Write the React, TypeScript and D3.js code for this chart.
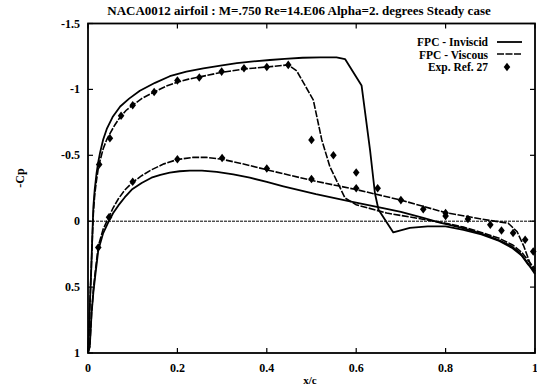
import React from "react";
import * as d3 from "d3";

const title = "NACA0012 airfoil : M=.750 Re=14.E06 Alpha=2. degrees Steady case";
const xTicks = [0, 0.2, 0.4, 0.6, 0.8, 1];
const xTickLabels = ["0", "0.2", "0.4", "0.6", "0.8", "1"];
const yTicks = [-1.5, -1, -0.5, 0, 0.5, 1];
const yTickLabels = ["-1.5", "-1", "-0.5", "0", "0.5", "1"];
const legendLabels = ["FPC - Inviscid", "FPC - Viscous", "Exp. Ref. 27"];

// [x/c, Cp]
const invUpper: [number, number][] = [
  [0, 1.0], [0.002, 0.85], [0.004, 0.65], [0.007, 0.39], [0.01, 0.08], [0.012, -0.11], [0.015, -0.24],
  [0.019, -0.36], [0.023, -0.45], [0.027, -0.52], [0.034, -0.62], [0.042, -0.7], [0.055, -0.79],
  [0.072, -0.87], [0.092, -0.93], [0.116, -0.99], [0.15, -1.05], [0.183, -1.1], [0.22, -1.135],
  [0.258, -1.16], [0.3, -1.183], [0.333, -1.2], [0.37, -1.213], [0.407, -1.223], [0.44, -1.232],
  [0.48, -1.24], [0.52, -1.243], [0.556, -1.243], [0.575, -1.23], [0.612, -1.03],
  [0.631, -0.54], [0.642, -0.21], [0.65, -0.087], [0.683, 0.085], [0.72, 0.05], [0.76, 0.04], [0.8, 0.04],
  [0.84, 0.065], [0.88, 0.1], [0.92, 0.15], [0.95, 0.205], [0.97, 0.26], [0.985, 0.33], [1.0, 0.38],
];
const invLower: [number, number][] = [
  [0, 1.0], [0.004, 0.95], [0.008, 0.7], [0.012, 0.54], [0.016, 0.42], [0.023, 0.22], [0.034, 0.09],
  [0.045, 0.01], [0.056, -0.06], [0.068, -0.12], [0.082, -0.18], [0.098, -0.24], [0.12, -0.29],
  [0.142, -0.33], [0.162, -0.352], [0.183, -0.368], [0.205, -0.379], [0.228, -0.384], [0.255, -0.383],
  [0.288, -0.375], [0.325, -0.355], [0.362, -0.33], [0.4, -0.298], [0.437, -0.265], [0.51, -0.205],
  [0.586, -0.15], [0.66, -0.1], [0.7, -0.07], [0.75, -0.025], [0.787, 0.01], [0.83, 0.045],
  [0.862, 0.075], [0.89, 0.105], [0.92, 0.145], [0.945, 0.185], [0.965, 0.235], [0.98, 0.3], [1.0, 0.4],
];
const visUpper: [number, number][] = [
  [0, 1.0], [0.002, 0.85], [0.004, 0.65], [0.007, 0.39], [0.01, 0.1], [0.012, -0.06], [0.015, -0.2],
  [0.019, -0.31], [0.023, -0.4], [0.027, -0.46], [0.034, -0.55], [0.042, -0.62], [0.05, -0.67],
  [0.06, -0.73], [0.072, -0.79], [0.085, -0.84], [0.1, -0.88], [0.12, -0.93], [0.148, -0.98],
  [0.175, -1.025], [0.2, -1.055], [0.225, -1.078], [0.25, -1.095], [0.3, -1.13], [0.35, -1.155],
  [0.4, -1.17], [0.448, -1.186], [0.467, -1.14], [0.504, -0.92], [0.523, -0.617], [0.541, -0.415],
  [0.575, -0.176], [0.6, -0.125], [0.668, -0.062], [0.74, -0.02], [0.8, 0.015], [0.84, 0.045],
  [0.88, 0.085], [0.92, 0.13], [0.95, 0.18], [0.97, 0.235], [0.985, 0.3], [1.0, 0.36],
];
const visLower: [number, number][] = [
  [0, 1.0], [0.004, 0.95], [0.008, 0.7], [0.012, 0.52], [0.016, 0.39], [0.023, 0.19], [0.034, 0.06],
  [0.045, -0.02], [0.056, -0.1], [0.068, -0.17], [0.082, -0.235], [0.098, -0.29], [0.12, -0.345],
  [0.142, -0.39], [0.17, -0.435], [0.2, -0.468], [0.235, -0.484], [0.265, -0.484], [0.3, -0.47],
  [0.35, -0.432], [0.4, -0.39], [0.5, -0.31], [0.6, -0.24], [0.7, -0.16], [0.8, -0.065],
  [0.85, -0.035], [0.9, -0.005], [0.94, 0.015], [0.96, 0.08], [0.975, 0.19], [0.99, 0.33], [1.0, 0.38],
];
const expData: [number, number][] = [
  [0.025, -0.43], [0.049, -0.63], [0.074, -0.8], [0.1, -0.88], [0.148, -0.98], [0.2, -1.067],
  [0.249, -1.09], [0.299, -1.135], [0.349, -1.16], [0.4, -1.17], [0.448, -1.186], [0.5, -0.617],
  [0.549, -0.5], [0.6, -0.37], [0.648, -0.25], [0.7, -0.16], [0.75, -0.09], [0.8, -0.062],
  [0.8, -0.04], [0.85, -0.017], [0.9, 0.027], [0.925, 0.07], [0.951, 0.09], [0.978, 0.14],
  [0.996, 0.23], [0.023, 0.2], [0.047, -0.03], [0.1, -0.3], [0.2, -0.47], [0.3, -0.48],
  [0.4, -0.4], [0.5, -0.32], [0.6, -0.25],
];

const W = 537;
const H = 391;
const x = d3.scaleLinear().domain([0, 1]).range([88, 535]);
const y = d3.scaleLinear().domain([-1.5, 1]).range([23.5, 353]);
const line = d3
  .line<[number, number]>()
  .x((d) => x(d[0]))
  .y((d) => y(d[1]))
  .curve(d3.curveLinear);
const diamond = d3.symbol().type(d3.symbolDiamond).size(26)() as string;

const font = "'Liberation Serif', 'Times New Roman', serif";

export default function App() {
  const [x0, x1] = x.range();
  const [y0, y1] = y.range();
  return (
    <svg
      width={W}
      height={H}
      style={{ position: "absolute", left: 0, top: 0, background: "#fff" }}
      fontFamily={font}
      fontWeight="bold"
    >
      <rect x={0} y={0} width={W} height={H} fill="#fff" />
      <text x={299} y={15} textAnchor="middle" fontSize={13}>
        {title}
      </text>
      {/* zero line */}
      <line x1={x0} x2={x1} y1={y(0)} y2={y(0)} stroke="#000" strokeWidth={1} strokeDasharray="3,1" />
      {/* curves */}
      <path d={line(invUpper) || ""} fill="none" stroke="#000" strokeWidth={1.8} strokeLinejoin="round" />
      <path d={line(invLower) || ""} fill="none" stroke="#000" strokeWidth={1.8} strokeLinejoin="round" />
      <path d={line(visUpper) || ""} fill="none" stroke="#000" strokeWidth={1.6} strokeDasharray="7,1.5" />
      <path d={line(visLower) || ""} fill="none" stroke="#000" strokeWidth={1.6} strokeDasharray="7,1.5" />
      {expData.map((d, i) => (
        <path key={i} d={diamond} transform={`translate(${x(d[0])},${y(d[1])}) scale(1.2,0.9)`} fill="#000" />
      ))}
      {/* frame */}
      <rect x={x0} y={y0} width={x1 - x0} height={y1 - y0} fill="none" stroke="#000" strokeWidth={1.8} />
      {xTicks.map((t, i) => (
        <g key={"xt" + i}>
          <line x1={x(t)} x2={x(t)} y1={y1} y2={y1 - 5} stroke="#000" strokeWidth={1.2} />
          <line x1={x(t)} x2={x(t)} y1={y0} y2={y0 + 5} stroke="#000" strokeWidth={1.2} />
          <text x={x(t)} y={372} textAnchor="middle" fontSize={12}>
            {xTickLabels[i]}
          </text>
        </g>
      ))}
      {yTicks.map((t, i) => (
        <g key={"yt" + i}>
          <line x1={x0} x2={x0 + 5} y1={y(t)} y2={y(t)} stroke="#000" strokeWidth={1.2} />
          <line x1={x1} x2={x1 - 5} y1={y(t)} y2={y(t)} stroke="#000" strokeWidth={1.2} />
          <text x={80} y={y(t) + 4} textAnchor="end" fontSize={12}>
            {yTickLabels[i]}
          </text>
        </g>
      ))}
      <text x={310} y={384} textAnchor="middle" fontSize={11}>
        x/c
      </text>
      <text transform="translate(24,178) rotate(-90)" textAnchor="middle" fontSize={12}>
        -Cp
      </text>
      {/* legend */}
      <text x={488} y={46} textAnchor="end" fontSize={11.5}>
        {legendLabels[0]}
      </text>
      <line x1={497} x2={522} y1={42} y2={42} stroke="#000" strokeWidth={1.8} />
      <text x={488} y={58.5} textAnchor="end" fontSize={11.5}>
        {legendLabels[1]}
      </text>
      <line x1={497} x2={522} y1={54} y2={54} stroke="#000" strokeWidth={1.6} strokeDasharray="7,1.5" />
      <text x={488} y={71} textAnchor="end" fontSize={11.5}>
        {legendLabels[2]}
      </text>
      <path d={diamond} transform={`translate(507,67) scale(1.2,0.9)`} fill="#000" />
    </svg>
  );
}
